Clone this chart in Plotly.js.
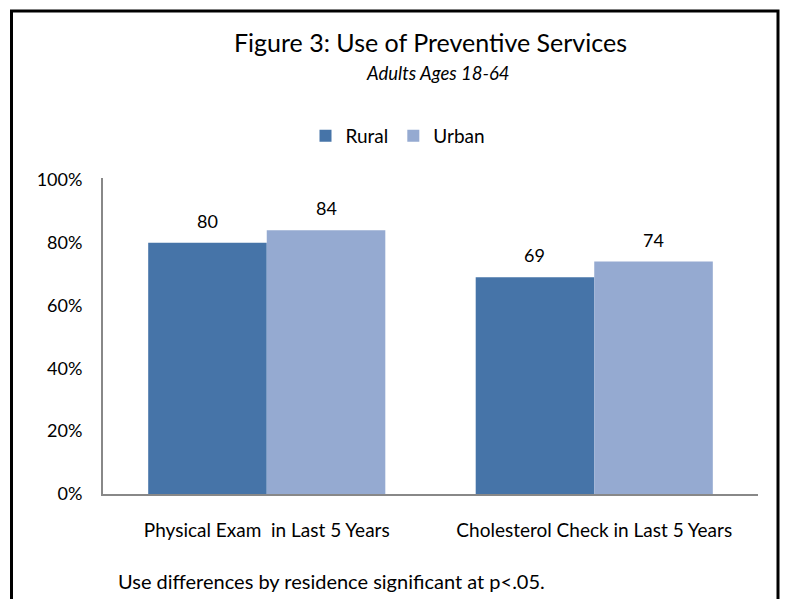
<!DOCTYPE html>
<html>
<head>
<meta charset="utf-8">
<script src="https://cdn.plot.ly/plotly-3.0.1.min.js"></script>
<style>
  html, body { margin: 0; padding: 0; background: #ffffff; }
  #chart { width: 785px; height: 599px; }
</style>
</head>
<body>
<div id="chart"></div>
<script>
const categories = ["Physical Exam  in Last 5 Years", "Cholesterol Check in Last 5 Years"];
const seriesNames = ["Rural", "Urban"];
const ruralValues = [80, 69];
const urbanValues = [84, 74];
const yTickValues = [0, 20, 40, 60, 80, 100];
const yTickLabels = ["0%", "20%", "40%", "60%", "80%", "100%"];
const titleText = "Figure 3: Use of Preventive Services";
const subtitleText = "Adults Ages 18-64";
const footnoteText = "Use differences by residence significant at p<.05.";

const FONT = "Lato, 'Open Sans', sans-serif";
const colors = ["#4674A8", "#95AAD1"];

const traces = [
  { type: "bar", name: seriesNames[0], x: categories, y: ruralValues, marker: { color: colors[0] }, hoverinfo: "none" },
  { type: "bar", name: seriesNames[1], x: categories, y: urbanValues, marker: { color: colors[1] }, hoverinfo: "none" }
];

const bargap = 0.276;
const plotW = 655;
const catW = plotW / categories.length;
const barW = catW * (1 - bargap) / 2;

const annotations = [];
[ruralValues, urbanValues].forEach((vals, s) => {
  vals.forEach((v, i) => {
    annotations.push({
      x: categories[i], y: v, xref: "x", yref: "y",
      xshift: (s === 0 ? -1 : 1) * barW / 2,
      yshift: 9,
      text: String(v), showarrow: false,
      yanchor: "bottom", xanchor: "center",
      font: { family: FONT, size: 18, color: "#000" }
    });
  });
});
annotations.push({
  x: 0.5, y: (494 - 42) / 316, xref: "paper", yref: "paper",
  text: titleText, showarrow: false, xanchor: "center", yanchor: "middle",
  font: { family: FONT, size: 25, color: "#000" }
});
annotations.push({
  x: (437.5 - 103) / 655, y: (494 - 73) / 316, xref: "paper", yref: "paper",
  text: "<i>" + subtitleText + "</i>", showarrow: false, xanchor: "center", yanchor: "middle",
  font: { family: FONT, size: 18.5, color: "#000" }
});
annotations.push({
  x: (116 - 103) / 655, y: (494 - 581) / 316, xref: "paper", yref: "paper",
  text: footnoteText, showarrow: false, xanchor: "left", yanchor: "middle",
  font: { family: FONT, size: 20, color: "#000" }
});

const layout = {
  width: 785, height: 599,
  margin: { l: 103, r: 27, t: 178, b: 105 },
  paper_bgcolor: "#ffffff", plot_bgcolor: "#ffffff",
  barmode: "group", bargap: bargap, bargroupgap: 0,
  showlegend: true,
  legend: {
    orientation: "h", x: (398 - 103) / 655, xanchor: "center",
    y: (494 - 136) / 316, yanchor: "middle",
    font: { family: FONT, size: 19, color: "#000" },
    traceorder: "normal"
  },
  xaxis: {
    showline: true, linecolor: "#888888", linewidth: 2,
    showgrid: false, zeroline: false, ticks: "",
    tickfont: { family: FONT, size: 19, color: "#000" },
    ticklabelstandoff: 18
  },
  yaxis: {
    range: [0, 100.6], showline: true, linecolor: "#888888", linewidth: 2,
    showgrid: false, zeroline: false, ticks: "",
    tickvals: yTickValues, ticktext: yTickLabels,
    tickfont: { family: FONT, size: 18, color: "#000" },
    ticklabelstandoff: 15
  },
  annotations: annotations,
  shapes: [{
    type: "rect", xref: "paper", yref: "paper",
    x0: (11.5 - 103) / 655, x1: (778 - 103) / 655,
    y0: (494 - 620) / 316, y1: (494 - 11) / 316,
    line: { color: "#000", width: 3 }, fillcolor: "rgba(0,0,0,0)", layer: "above"
  }]
};

Plotly.newPlot("chart", traces, layout, { staticPlot: true, displayModeBar: false });
</script>
</body>
</html>
